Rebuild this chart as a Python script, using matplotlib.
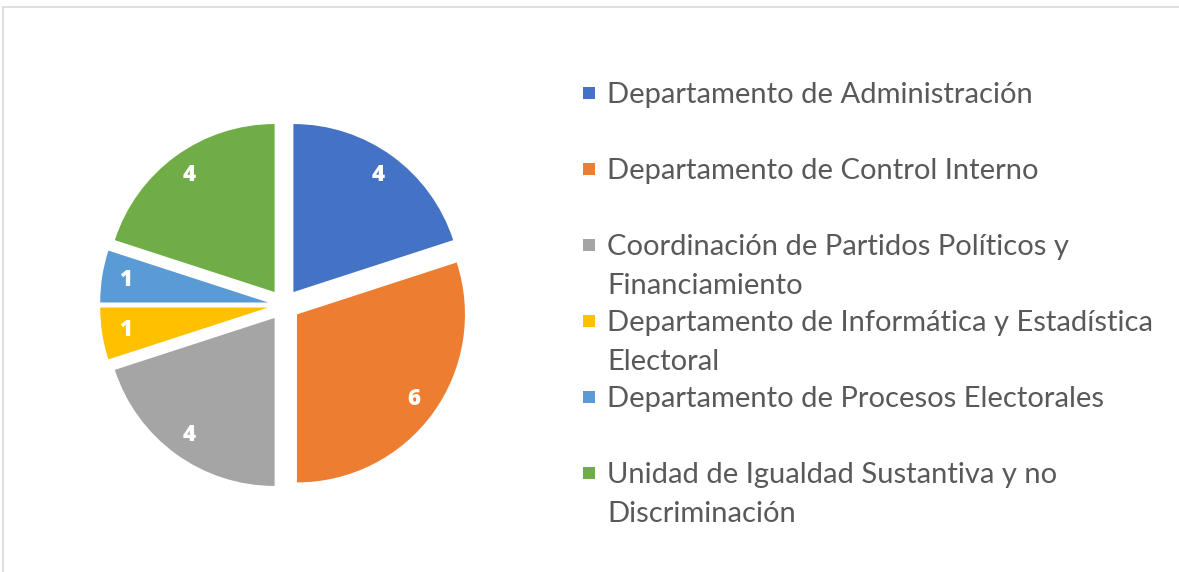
import matplotlib.pyplot as plt
import matplotlib.patches as patches

# --- Data ---
departments = [
    "Departamento de Administración",
    "Departamento de Control Interno",
    "Coordinación de Partidos Políticos y\nFinanciamiento",
    "Departamento de Informática y Estadística\nElectoral",
    "Departamento de Procesos Electorales",
    "Unidad de Igualdad Sustantiva y no\nDiscriminación",
]
counts = [4, 6, 4, 1, 1, 4]
colors = ["#4472C4", "#ED7D31", "#A5A5A5", "#FFC000", "#5B9BD5", "#70AD47"]

W, H = 1179, 572
plt.rcParams['font.family'] = ['Lato', 'DejaVu Sans']

fig = plt.figure(figsize=(W / 100, H / 100), dpi=100)
ax = fig.add_axes([0, 0, 1, 1])

# chart frame
ax.add_patch(patches.Rectangle((3, -10), W + 10, H - 7 + 10, fill=False,
                               edgecolor="#d9d9d9", linewidth=1.2))

# --- Pie ---
wedges, texts, autotexts = ax.pie(
    counts, colors=colors, startangle=90, counterclock=False,
    center=(284, H - 305), radius=168, explode=[16] * len(counts),
    autopct=lambda p: f"{round(p * sum(counts) / 100):d}",
    pctdistance=0.86, frame=True,
    textprops=dict(color="white", fontsize=16, fontweight="heavy",
                   family=['Open Sans', 'DejaVu Sans']))
ax.set_xlim(0, W)
ax.set_ylim(0, H)
ax.set_aspect('equal')
ax.axis('off')

# --- Legend ---
y0 = H - 95
slot = 76
line_h = 39
for i, (name, col) in enumerate(zip(departments, colors)):
    y = y0 - i * slot
    ax.add_patch(patches.Rectangle((583, y - 4), 12, 12, facecolor=col, edgecolor='none'))
    for j, line in enumerate(name.split("\n")):
        ax.text(607, y - j * line_h, line, fontsize=21, color="#595959",
                va='center', ha='left')

fig.savefig("out.png", dpi=100)
